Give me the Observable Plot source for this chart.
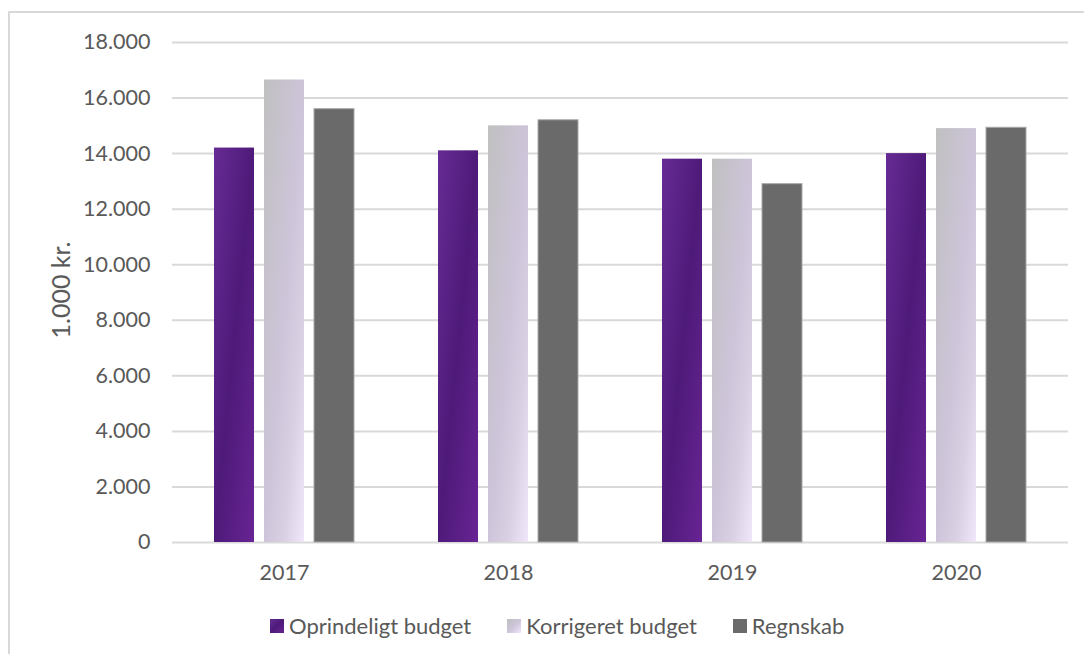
<!DOCTYPE html>
<html>
<head>
<meta charset="utf-8">
<script src="https://cdn.jsdelivr.net/npm/d3@7"></script>
<script src="https://cdn.jsdelivr.net/npm/@observablehq/plot@0.6"></script>
<style>
  html, body { margin: 0; padding: 0; background: #fff; }
  #wrap { position: relative; width: 1084px; height: 654px; overflow: hidden; font-family: Lato, "Open Sans", sans-serif; color: #595959; }
  #frame { position: absolute; left: 8px; top: 11px; width: 1100px; height: 700px; border-left: 2px solid #d9d9d9; border-top: 2px solid #d9d9d9; }
  #chart { position: absolute; left: 0; top: 0; }
  #legend { position: absolute; left: 270px; top: 612px; display: flex; align-items: center; gap: 36px; font-size: 22px; white-space: nowrap; }
  .item { display: flex; align-items: center; }
  .sw { width: 14px; height: 14px; margin-right: 5px; }
</style>
</head>
<body>
<div id="wrap">
  <div id="frame"></div>
  <div id="chart"></div>
  <div id="legend"></div>
</div>
<script>
const years = ["2017", "2018", "2019", "2020"];
const series = ["Oprindeligt budget", "Korrigeret budget", "Regnskab"];
const oprindeligtBudget = [14200, 14100, 13800, 14000];
const korrigeretBudget = [16650, 15000, 13800, 14900];
const regnskab = [15600, 15200, 12900, 14930];
const yTicks = [0, 2000, 4000, 6000, 8000, 10000, 12000, 14000, 16000, 18000];
const yLabel = "1.000 kr.";

const seriesValues = [oprindeligtBudget, korrigeretBudget, regnskab];
const data = [];
series.forEach((s, i) => years.forEach((y, j) => data.push({ year: y, series: s, value: seriesValues[i][j] })));

const fills = ["url(#gPurple)", "url(#gLight)", "#6a6a6a"];
const offsets = [-50, 0, 50];
const fmt = d => d3.format(",")(d).replace(/,/g, ".");

const barMarks = series.map((s, i) => Plot.barY(data.filter(d => d.series === s), {
  x: "year", y: "value", fill: fills[i], dx: offsets[i], insetLeft: 92, insetRight: 92,
  stroke: i === 2 ? "#a8a8a8" : "none", strokeWidth: 1
}));

const plot = Plot.plot({
  width: 1084, height: 600,
  marginLeft: 172, marginRight: 16, marginTop: 42, marginBottom: 58,
  style: { fontFamily: "Lato, 'Open Sans', sans-serif", fontSize: "21.5px", color: "#595959", background: "transparent", overflow: "visible" },
  x: { domain: years, padding: 0, label: null, tickSize: 0, tickPadding: 22 },
  y: { domain: [0, 18000], ticks: yTicks, tickFormat: fmt, label: null, tickSize: 0, tickPadding: 22 },
  marks: [
    Plot.ruleY(yTicks, { stroke: "#d9d9d9", strokeWidth: 2 }),
    ...barMarks
  ]
});

const svg = d3.select(plot);
const defs = svg.insert("defs", ":first-child");
const g1 = defs.append("linearGradient").attr("id", "gPurple").attr("x1", 0).attr("y1", 0).attr("x2", 1).attr("y2", 1);
[[0, "#662b94"], [0.5, "#4e1a79"], [1, "#682494"]].forEach(([o, c]) => g1.append("stop").attr("offset", o).attr("stop-color", c));
const g2 = defs.append("linearGradient").attr("id", "gLight").attr("x1", 0).attr("y1", 0).attr("x2", 1).attr("y2", 1);
[[0, "#c0c0c0"], [0.5, "#cdc4d9"], [0.75, "#dad0e4"], [1, "#f1e7fb"]].forEach(([o, c]) => g2.append("stop").attr("offset", o).attr("stop-color", c));

svg.append("text")
  .attr("transform", "translate(70,290) rotate(-90)")
  .attr("text-anchor", "middle")
  .attr("fill", "#595959")
  .style("font-size", "25px")
  .text(yLabel);

document.getElementById("chart").appendChild(plot);

const swatches = [
  "linear-gradient(135deg, #662b94, #4e1a79, #682494)",
  "linear-gradient(135deg, #c0c0c0, #cdc4d9, #f1e7fb)",
  "#6a6a6a"
];
const legend = d3.select("#legend");
series.forEach((s, i) => {
  const it = legend.append("div").attr("class", "item");
  it.append("div").attr("class", "sw").style("background", swatches[i]);
  it.append("span").text(s);
});
</script>
</body>
</html>
